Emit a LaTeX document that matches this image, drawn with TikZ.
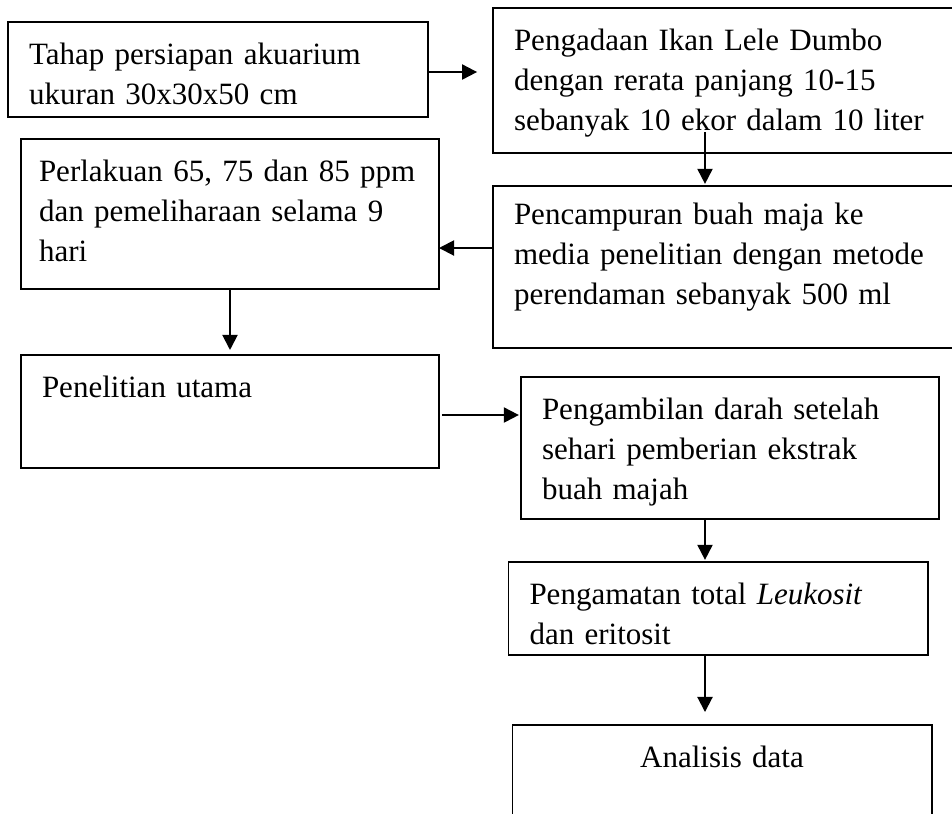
\documentclass[tikz,border=0pt]{standalone}
\usepackage{fontspec}
\setmainfont{Liberation Serif}
\usetikzlibrary{arrows.meta,positioning}
\newlength{\pxu}
\setlength{\pxu}{0.3774pt}
\tikzset{stepbox/.style={
    % The shape:
    rectangle,
    % The border:
    line width=0.75pt,
    draw=black,
    outer sep=0pt,
    % Padding, text sits on the top line:
    inner xsep=21\pxu,
    inner ysep=0pt,
    text height=42\pxu,
    align=left,
    % Font
    font=\fontsize{11.7}{15.2}\selectfont
    },
    flow/.style={
    line width=0.75pt,
    -{Triangle[length=5.7pt,width=5.7pt]},
    },
}

\begin{document}
\begin{tikzpicture}[x=\pxu,y=-\pxu]
    \useasboundingbox (0,0) rectangle (952,813);
    \clip (0,0) rectangle (952,813);

    \node (prep)  [stepbox,anchor=north west,text width=378\pxu,text depth=53\pxu] at (8,22)
        {Tahap persiapan akuarium\\ukuran 30x30x50 cm};
    \node (fish)  [stepbox,anchor=north west,text width=442\pxu,text depth=103\pxu] at (493,8)
        {Pengadaan Ikan Lele Dumbo\\dengan rerata panjang 10-15\\sebanyak 10 ekor dalam 10 liter};
    \node (mix)   [stepbox,below=33\pxu of fish,text width=442\pxu,text height=38\pxu,text depth=124\pxu]
        {Pencampuran buah maja ke\\media penelitian dengan metode\\perendaman sebanyak 500 ml};
    \node (treat) [stepbox,anchor=north west,inner xsep=18\pxu,text width=382\pxu,text depth=108\pxu] at (21,139)
        {Perlakuan 65, 75 dan 85~ppm\\dan pemeliharaan selama~9\\hari};
    \node (main)  [stepbox,below=66\pxu of treat,text width=376\pxu,text depth=71\pxu]
        {Penelitian utama};
    \node (blood) [stepbox,anchor=north west,text width=376\pxu,text depth=100\pxu] at (521,377)
        {Pengambilan darah setelah\\sehari pemberian ekstrak\\buah majah};
    \node (count) [stepbox,below=43\pxu of blood,xshift=-12\pxu,text width=377\pxu,text depth=51\pxu]
        {Pengamatan total \textit{Leukosit}\\dan eritosit};
    \node (anal)  [stepbox,below=70\pxu of count,xshift=4\pxu,text width=377\pxu,text depth=100\pxu,align=center]
        {Analisis data};

    \coordinate (kx) at (705,132);
    \coordinate (rx) at (705,0);

    \draw[flow,shorten >=6pt] (prep.east |- 0,72) -- (fish.west |- 0,72);
    \draw[flow,shorten >=0.8pt] (kx) -- (kx |- mix.north);
    \draw[flow] (mix.west |- 0,248) -- (treat.east |- 0,248);
    \draw[flow,shorten >=1.9pt] (treat) -- (main);
    \draw[flow,shorten <=1.1pt,shorten >=0.8pt] (main.east |- 0,415) -- (blood.west |- 0,415);
    \draw[flow,shorten >=0.8pt] (blood.south -| rx) -- (count.north -| rx);
    \draw[flow,shorten >=4.9pt] (count.south -| rx) -- (anal.north -| rx);
\end{tikzpicture}
\end{document}
